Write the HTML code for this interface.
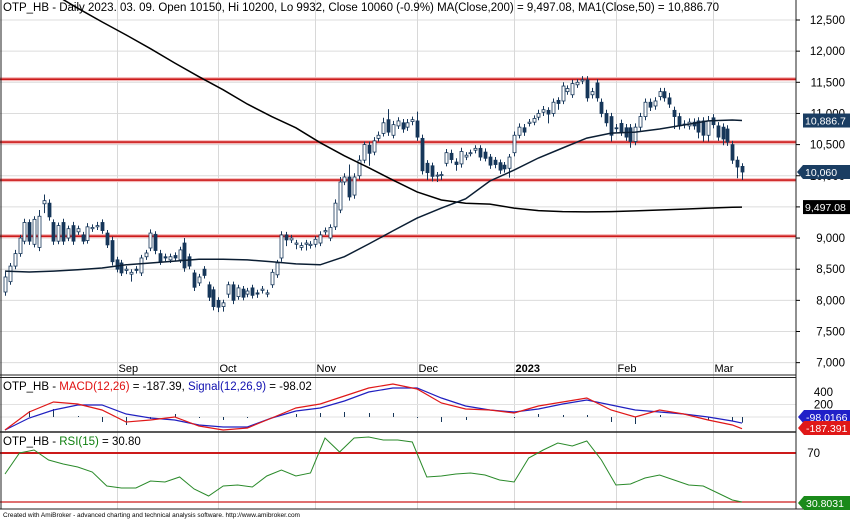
<!DOCTYPE html>
<html><head><meta charset="utf-8">
<style>
html,body{margin:0;padding:0;background:#fff;}
#wrap{position:relative;width:850px;height:520px;overflow:hidden;font-family:"Liberation Sans",Arial,sans-serif;}
svg text{font-family:"Liberation Sans",Arial,sans-serif;}
</style></head>
<body>
<div id="wrap">
<svg id="chart" width="850" height="520" viewBox="0 0 850 520" xmlns="http://www.w3.org/2000/svg">
  <defs>
    <clipPath id="clipMain"><rect x="0" y="0" width="796" height="376"/></clipPath>
    <clipPath id="clipMacd"><rect x="0" y="378" width="796" height="54"/></clipPath>
    <clipPath id="clipRsi"><rect x="0" y="433" width="796" height="76"/></clipPath>
  </defs>
  <g id="grid"></g>
  <g id="levels" clip-path="url(#clipMain)"></g>
  <g id="candles" clip-path="url(#clipMain)"></g>
  <g id="mas" clip-path="url(#clipMain)"></g>
  <g id="macd" clip-path="url(#clipMacd)"></g>
  <g id="rsi" clip-path="url(#clipRsi)"></g>
  <g id="frame"></g>
  <g id="axis"></g>
  <g id="labels">
    <text x="3" y="11" font-size="11.5" fill="#000">OTP_HB - Daily 2023. 03. 09. Open 10150, Hi 10200, Lo 9932, Close 10060 (-0.9%) MA(Close,200) = 9,497.08, MA1(Close,50) = 10,886.70</text>
    <text x="3" y="390" font-size="11.5" fill="#000">OTP_HB - <tspan fill="#e01010">MACD(12,26)</tspan> = -187.39, <tspan fill="#1010b0">Signal(12,26,9)</tspan> = -98.02</text>
    <text x="3" y="445" font-size="11.5" fill="#000">OTP_HB - <tspan fill="#108010">RSI(15)</tspan> = 30.80</text>
    <text x="3" y="517" font-size="6.5" fill="#000">Created with AmiBroker - advanced charting and technical analysis software. http://www.amibroker.com</text>
  </g>
</svg>
</div>
<script>
// ---- data ----
const opens = [8134,8300,8550,8750,8950,9250,8900,8850,9550,9560,9250,8950,9250,9000,9200,9100,9050,8960,9150,9180,
9250,9080,8960,8650,8600,8480,8420,8500,8440,8700,8840,9060,8750,8700,8650,8720,8650,8920,8700,8440,
8280,8500,8250,8170,8000,7900,8100,8250,8060,8180,8100,8200,8120,8160,8100,8250,8410,8680,9050,8970,
8900,8850,8900,8880,8900,8920,9100,9000,9180,9450,9900,9980,9690,10000,10250,10490,10380,10600,10680,10900,
10650,10800,10850,10780,10870,10880,10600,10200,10160,10000,10010,10200,10360,10220,10190,10300,10360,10410,10440,10380,
10300,10250,10210,10170,10120,10370,10650,10770,10840,10860,10940,11020,11050,11000,11210,11200,11350,11300,11460,11520,
11540,11300,11490,11180,11000,10950,10770,10840,10770,10770,10550,10780,10950,11180,11120,11270,11350,11250,11050,10950,
10830,10800,10860,10880,10880,10650,10930,10800,10780,10750,10500,10250,10150];
const closes = [8375,8550,8750,9000,9250,8950,9300,9350,9600,9340,8950,9200,8950,9150,8950,9150,8950,9180,9170,9200,
9120,8890,8620,8500,8440,8500,8450,8480,8680,8760,9080,8800,8620,8680,8700,8680,8810,8520,8550,8210,
8375,8400,8050,7900,7890,7960,8250,8000,8200,8050,8150,8080,8100,8180,8120,8450,8600,9050,8970,9000,
8920,8880,8920,8900,8980,9050,9120,9170,9560,9900,9980,9660,9980,10250,10500,10360,10560,10650,10850,10700,
10820,10880,10750,10850,10900,10620,10080,10050,9990,10010,10020,10370,10260,10180,10390,10330,10370,10440,10300,10280,
10170,10180,10090,10110,10300,10650,10780,10700,10860,10920,11000,11060,10990,11180,11160,11440,11400,11480,11500,11540,
11250,11350,11250,11000,10850,10650,10760,10700,10620,10550,10780,10950,11180,11100,11200,11350,11250,11150,10950,10800,
10820,10860,10800,10700,10650,10880,10820,10620,10590,10540,10250,10140,10060];
const wickUp = [80,50,60,50,60,50,50,100,100,60,50,50,60,50,60,50,50,60,50,60,
50,50,60,50,50,50,50,50,50,50,60,50,60,50,50,50,50,80,50,50,
50,50,50,50,50,50,50,50,50,50,50,50,50,50,50,50,50,60,50,50,
50,50,50,50,50,60,50,50,60,80,60,200,60,80,50,60,60,60,80,170,
60,60,60,60,50,150,60,50,50,50,50,60,60,60,60,50,50,50,50,60,
50,50,50,50,50,60,60,60,50,50,60,60,50,60,50,60,50,60,50,60,
60,60,60,60,60,60,60,60,60,60,60,60,60,60,60,60,60,80,60,60,
60,60,60,60,60,80,60,60,60,60,60,60,50];
const wickDn = [60,50,50,50,50,60,50,60,150,60,60,50,60,50,60,50,50,50,50,50,
50,50,60,50,50,60,120,50,50,50,50,60,50,50,50,50,50,60,50,60,
50,50,60,60,80,80,60,60,50,50,50,50,60,50,50,50,50,60,100,50,
80,50,100,50,50,50,50,50,50,50,50,60,60,60,50,200,50,50,50,60,
50,50,60,60,60,60,60,120,80,100,80,50,60,100,60,50,50,50,60,50,
60,60,60,60,150,60,50,60,50,50,50,60,150,50,100,50,50,50,50,50,
60,60,60,60,60,100,60,60,60,100,60,60,60,60,60,60,60,60,200,60,
60,60,60,100,100,100,60,60,100,60,60,180,128];
// moving averages sampled every 5 bars (last point = final bar)
const ma200 = [13400,13140,12920,12690,12470,12260,12040,11810,11590,11380,11150,10950,10770,10530,10320,10130,9930,9740,9610,9560,9545,9480,9440,9425,9420,9425,9435,9450,9465,9480,9495,9497];
const ma50 = [8470,8455,8470,8490,8520,8570,8600,8630,8660,8660,8650,8620,8585,8570,8700,8905,9115,9320,9480,9630,9915,10090,10285,10445,10605,10685,10700,10750,10815,10880,10895,10887];
// MACD sampled every 5 bars
const macdLine = [-208,80,240,208,112,-80,-48,0,-144,-208,-176,-16,144,208,336,464,528,448,224,128,112,64,176,240,304,112,0,112,48,-48,-128,-187];
const signalLine = [-208,-16,112,192,192,48,-16,-48,-128,-160,-160,-16,96,144,256,400,464,464,304,176,112,80,128,208,272,192,112,80,48,0,-64,-98];
// RSI sampled every 3 bars
const rsiLine = [53.2,70,72.4,64.4,61.2,58.8,54.8,43.6,42,42,47.6,46.8,50.8,41.2,35.6,43.6,44.4,42.8,51.6,56.4,51.6,54,82,70.8,82,82.8,80.4,80.4,78.8,50.8,51.6,53.2,54,52.4,48.4,46.8,66,72.4,78,75.6,79.6,64.4,44.4,45.2,50,52.4,48.4,44.4,43.6,38,32.4,30.8];
const levelPrices = [11550,10540,9930,9030];
const priceTicks = [12500,12000,11500,11000,10500,10000,9500,9000,8500,8000,7500,7000];
const tickLabels = ["12,500","12,000","11,500","11,000","10,500","10,000","9,500","9,000","8,500","8,000","7,500","7,000"];
const monthLabels = ["Sep","Oct","Nov","Dec","2023","Feb","Mar"];
const monthBars = [23,44,64,85,105,126,146];
const macdTicks = [400,200];
const rsiTicks = [70];

// ---- scales ----
const NS = "http://www.w3.org/2000/svg";
const nBars = opens.length;
const xBar = i => 5 + i * (737 / (nBars - 1));
const yP = p => 20 + (12500 - p) * 0.0623;
const yM = v => 417 - v * 0.0625;
const yR = v => 453 + (70 - v) * 1.25;
function mk(tag, attrs, parent) {
  const e = document.createElementNS(NS, tag);
  for (const k in attrs) e.setAttribute(k, attrs[k]);
  parent.appendChild(e);
  return e;
}
const G = id => document.getElementById(id);

// ---- grid ----
const grid = G('grid');
priceTicks.forEach((p) => {
  const l = mk('line', {x1: 0, x2: 796, y1: yP(p), y2: yP(p), stroke: '#dcdcdc', 'stroke-width': 1}, grid);
  
  
});
monthBars.forEach((b, k) => {
  const x = Math.round(xBar(b)) + 0.5;
  const l = mk('line', {x1: x, x2: x, y1: 0, y2: 509, stroke: '#d8d8d8', 'stroke-width': 1}, grid);
  
  
  const t = mk('text', {x: x + 1, y: 372, 'font-size': 11, fill: '#000', 'font-weight': monthLabels[k] === '2023' ? 'bold' : 'normal'}, grid);
  t.textContent = monthLabels[k];
  
  
});
[yM(200), yM(0)].forEach(y => {
  const l = mk('line', {x1: 0, x2: 796, y1: y, y2: y, stroke: '#e2e2e2', 'stroke-width': 1}, grid);
  
  
});

// ---- levels ----
const lv = G('levels');
levelPrices.forEach(p => {
  const y = yP(p);
  mk('line', {x1: 0, x2: 796, y1: y, y2: y, stroke: '#f4b8b8', 'stroke-width': 4}, lv);
  const l = mk('line', {x1: 0, x2: 796, y1: y, y2: y, stroke: '#cc1a1a', 'stroke-width': 1.6}, lv);
  
  
});

// ---- candles ----
const cg = G('candles');
for (let i = 0; i < nBars; i++) {
  const o = opens[i], c = closes[i];
  const hi = Math.max(o, c) + wickUp[i], lo = Math.min(o, c) - wickDn[i];
  const x = Math.round(xBar(i));
  const g = mk('g', {}, cg);
  
  
  mk('line', {x1: x + 0.5, x2: x + 0.5, y1: yP(hi), y2: yP(lo), stroke: '#17375a', 'stroke-width': 1}, g);
  const top = yP(Math.max(o, c)), bot = yP(Math.min(o, c));
  const up = c >= o;
  mk('rect', {x: x - 1, y: top, width: 3, height: Math.max(1, bot - top), fill: up ? '#ffffff' : '#17375a', stroke: '#17375a', 'stroke-width': 0.8}, g);
}

// ---- moving averages ----
const mg = G('mas');
function sampledPath(arr, step, yf) {
  return arr.map((v, k) => (k ? 'L' : 'M') + xBar(Math.min(k * step, nBars - 1)).toFixed(1) + ',' + yf(v).toFixed(1)).join(' ');
}
const m200 = mk('path', {d: sampledPath(ma200, 5, yP), fill: 'none', stroke: '#000', 'stroke-width': 1.5}, mg);


const m50 = mk('path', {d: sampledPath(ma50, 5, yP), fill: 'none', stroke: '#0b1e33', 'stroke-width': 1.5}, mg);



// ---- MACD ----
const mcg = G('macd');
macdLine.forEach((m, k) => {
  const x = Math.round(xBar(Math.min(k * 5, nBars - 1))) + 0.5;
  const h = mk('line', {x1: x, x2: x, y1: yM(0), y2: yM(m - signalLine[k]), stroke: '#17375a', 'stroke-width': 1}, mcg);
  
  
});
const sp = mk('path', {d: sampledPath(signalLine, 5, yM), fill: 'none', stroke: '#2020c0', 'stroke-width': 1.2}, mcg);


const mp = mk('path', {d: sampledPath(macdLine, 5, yM), fill: 'none', stroke: '#e01818', 'stroke-width': 1.2}, mcg);



// ---- RSI ----
const rg = G('rsi');
[70, 30.8].forEach(v => {
  const l = mk('line', {x1: 0, x2: 796, y1: yR(v), y2: yR(v), stroke: '#cc1a1a', 'stroke-width': v === 70 ? 2 : 1.2}, rg);
  
  
});
const rp = mk('path', {d: sampledPath(rsiLine, 3, yR), fill: 'none', stroke: '#2a8a2a', 'stroke-width': 1}, rg);



// ---- frames ----
const fr = G('frame');
[['M1,0 L1,509 M796,0 L796,509', 1], ['M0,375 L796,375 M0,377.5 L796,377.5', 1], ['M0,432 L796,432', 1.5], ['M0,509 L850,509', 1]].forEach(d => {
  const p = mk('path', {d: d[0], stroke: '#222', 'stroke-width': d[1], fill: 'none'}, fr);
  
  
});

// ---- axis ----
const ax = G('axis');
priceTicks.forEach((p, k) => {
  const y = yP(p);
  mk('line', {x1: 796, x2: 800, y1: y, y2: y, stroke: '#000'}, ax);
  const t = mk('text', {x: 845, y: y + 4, 'font-size': 11.5, 'text-anchor': 'end', fill: '#000'}, ax);
  t.textContent = tickLabels[k];
  
  
});
macdTicks.forEach(v => {
  const t = mk('text', {x: 833, y: yM(v) + 4, 'font-size': 11.5, 'text-anchor': 'end', fill: '#000'}, ax);
  t.textContent = String(v);
  
  
});
rsiTicks.forEach(v => {
  const t = mk('text', {x: 820, y: yR(v) + 4, 'font-size': 11.5, 'text-anchor': 'end', fill: '#000'}, ax);
  t.textContent = String(v);
  
  
});
function valueTag(y, text, bg, fg, arrow, name, x0) {
  const g = mk('g', {}, ax);
  
  
  const w = 850 - x0;
  if (arrow) mk('path', {d: `M${x0 - 6},${y} L${x0},${y - 7} L850,${y - 7} L850,${y + 7} L${x0},${y + 7} Z`, fill: bg}, g);
  else mk('rect', {x: x0, y: y - 7, width: w, height: 14, fill: bg}, g);
  const t = mk('text', {x: x0 + 2, y: y + 4, 'font-size': 10.5, fill: fg}, g);
  t.textContent = text;
}
valueTag(yP(10886.7), '10,886.7', '#1a3d62', '#fff', false, 'ma50-value-tag', 803);
valueTag(yP(9497.08), '9,497.08', '#000', '#fff', false, 'ma200-value-tag', 803);
valueTag(yP(10060), '10,060', '#1a3d62', '#fff', true, 'close-value-tag', 803);
valueTag(417, '-98.0166', '#2020c8', '#fff', true, 'signal-value-tag', 804);
valueTag(428, '-187.391', '#e01818', '#fff', true, 'macd-value-tag', 804);
valueTag(503, '30.8031', '#1a8a1a', '#fff', true, 'rsi-value-tag', 804);
</script>
</body></html>
